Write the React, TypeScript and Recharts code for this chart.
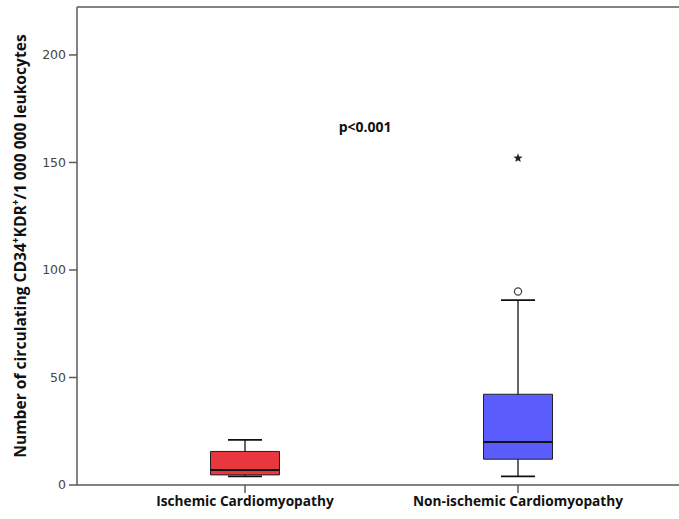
import React from "react";
import {
  ComposedChart,
  XAxis,
  YAxis,
  Scatter,
  ReferenceArea,
  ReferenceLine,
  ReferenceDot,
  Label,
} from "recharts";

const categories = ["Ischemic Cardiomyopathy", "Non-ischemic Cardiomyopathy"];
const positions = [1, 2];
const mins = [4, 4];
const q1s = [4.7, 12];
const medians = [7, 20];
const q3s = [15.6, 42.2];
const maxs = [21, 86];
const boxColors = ["#e8373f", "#5a5cfc"];
const outliers = [{ x: 2, y: 90 }];
const extremes = [{ x: 2, y: 152 }];
const yTicks = [0, 50, 100, 150, 200];
const pText = "p<0.001";

const X_MIN = 0.3846;
const X_MAX = 2.5897;
const Y_MAX = 222.3;
const BOX_HALF = 0.1264;
const CAP_HALF = 0.0623;

const FONT = "'DejaVu Sans', sans-serif";
const BOLD_FONT = "'Open Sans', sans-serif";
const AXIS_COLOR = "#5a5a5a";

const CircleShape = (props: any) => {
  const { cx, cy } = props;
  return <circle cx={cx} cy={cy} r={3.6} fill="none" stroke="#444" strokeWidth={1.2} />;
};

const StarShape = (props: any) => {
  const { cx, cy } = props;
  const R = 4.8;
  const r = 2.0;
  const pts: string[] = [];
  for (let i = 0; i < 10; i++) {
    const rad = i % 2 === 0 ? R : r;
    const a = -Math.PI / 2 + (i * Math.PI) / 5;
    pts.push(`${cx + rad * Math.cos(a)},${cy + rad * Math.sin(a)}`);
  }
  return <polygon points={pts.join(" ")} fill="#222" />;
};

const YTitle = (props: any) => {
  const vb = props.viewBox || {};
  const cy = vb.y + vb.height / 2;
  const cx = 20;
  return (
    <text
      x={cx}
      y={cy}
      transform={`rotate(-90, ${cx}, ${cy})`}
      textAnchor="middle"
      dominantBaseline="central"
      fontFamily={BOLD_FONT}
      fontWeight="bold"
      fontSize={15.6}
      fill="#111"
    >
      Number of circulating CD34
      <tspan dy={-5} fontSize={10}>+</tspan>
      <tspan dy={5}>KDR</tspan>
      <tspan dy={-5} fontSize={10}>+</tspan>
      <tspan dy={5}>/1 000 000 leukocytes</tspan>
    </text>
  );
};

const PLabel = (props: any) => {
  const vb = props.viewBox || {};
  const x = vb.cx !== undefined ? vb.cx : vb.x;
  const y = vb.cy !== undefined ? vb.cy : vb.y;
  return (
    <text
      x={x}
      y={y}
      textAnchor="middle"
      dominantBaseline="central"
      fontFamily={BOLD_FONT}
      fontWeight="bold"
      fontSize={14}
      fill="#111"
    >
      {pText}
    </text>
  );
};

export default function App() {
  return (
    <div style={{ position: "absolute", left: 0, top: 0, background: "#fff" }}>
      <ComposedChart
        width={679}
        height={519}
        margin={{ top: 7, right: 0, bottom: 0, left: 0 }}
      >
        <XAxis
          type="number"
          dataKey="x"
          domain={[X_MIN, X_MAX]}
          ticks={positions}
          allowDataOverflow
          tickFormatter={(v: number) => categories[positions.indexOf(v)] ?? ""}
          height={34}
          tickSize={8}
          tickMargin={3}
          stroke={AXIS_COLOR}
          strokeWidth={1.5}
          tick={{ fontFamily: BOLD_FONT, fontWeight: "bold", fontSize: 13.7, fill: "#111" }}
          interval={0}
        />
        <YAxis
          type="number"
          dataKey="y"
          domain={[0, Y_MAX]}
          ticks={yTicks}
          allowDataOverflow
          width={77}
          tickSize={8}
          tickMargin={3}
          stroke={AXIS_COLOR}
          strokeWidth={1.5}
          tick={{ fontFamily: FONT, fontSize: 12.5, fill: "#444" }}
        >
          <Label content={<YTitle />} />
        </YAxis>
        <ReferenceLine y={Y_MAX} stroke={AXIS_COLOR} strokeWidth={1.5} />
        {positions.map((p, i) => (
          <ReferenceLine
            key={`uw${i}`}
            segment={[{ x: p, y: q3s[i] }, { x: p, y: maxs[i] }]}
            stroke="#111"
            strokeWidth={1.3}
          />
        ))}
        {positions.map((p, i) => (
          <ReferenceLine
            key={`lw${i}`}
            segment={[{ x: p, y: mins[i] }, { x: p, y: q1s[i] }]}
            stroke="#111"
            strokeWidth={1.3}
          />
        ))}
        {positions.map((p, i) => (
          <ReferenceLine
            key={`uc${i}`}
            segment={[{ x: p - CAP_HALF, y: maxs[i] }, { x: p + CAP_HALF, y: maxs[i] }]}
            stroke="#111"
            strokeWidth={1.6}
          />
        ))}
        {positions.map((p, i) => (
          <ReferenceLine
            key={`lc${i}`}
            segment={[{ x: p - CAP_HALF, y: mins[i] }, { x: p + CAP_HALF, y: mins[i] }]}
            stroke="#111"
            strokeWidth={1.6}
          />
        ))}
        {positions.map((p, i) => (
          <ReferenceArea
            key={`box${i}`}
            x1={p - BOX_HALF}
            x2={p + BOX_HALF}
            y1={q1s[i]}
            y2={q3s[i]}
            fill={boxColors[i]}
            fillOpacity={1}
            stroke="#222"
            strokeWidth={1}
          />
        ))}
        {positions.map((p, i) => (
          <ReferenceLine
            key={`med${i}`}
            segment={[{ x: p - BOX_HALF, y: medians[i] }, { x: p + BOX_HALF, y: medians[i] }]}
            stroke="#111"
            strokeWidth={2}
          />
        ))}
        <Scatter data={outliers} dataKey="y" shape={<CircleShape />} isAnimationActive={false} />
        <Scatter data={extremes} dataKey="y" shape={<StarShape />} isAnimationActive={false} />
        <ReferenceDot x={1.44} y={166.5} r={0} fill="none" stroke="none" label={<PLabel />} />
      </ComposedChart>
    </div>
  );
}
